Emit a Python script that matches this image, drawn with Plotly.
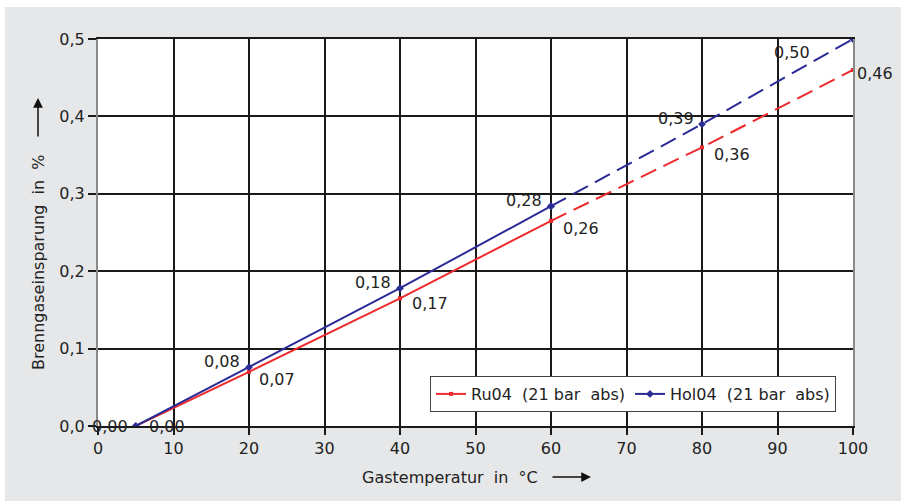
import plotly.graph_objects as go

# ---- data ----
temps = [5, 20, 40, 60, 80, 100]
ru04 = [0.0, 0.07, 0.165, 0.265, 0.36, 0.46]
hol04 = [0.0, 0.076, 0.178, 0.284, 0.39, 0.50]
ru04_labels = ["0,00", "0,07", "0,17", "0,26", "0,36", "0,46"]
hol04_labels = ["0,00", "0,08", "0,18", "0,28", "0,39", "0,50"]
x_ticks = [0, 10, 20, 30, 40, 50, 60, 70, 80, 90, 100]
y_ticks = [0.0, 0.1, 0.2, 0.3, 0.4, 0.5]
y_tick_text = ["0,0", "0,1", "0,2", "0,3", "0,4", "0,5"]
split = 3  # index where measured (solid) part ends and dashed extrapolation begins

RED = "#ee2a2e"
BLUE = "#2b2b96"
GREY_BG = "#e6e7e9"
FONT = "DejaVu Sans, Liberation Sans, Arial, sans-serif"
FS = 16
TXT = "#222"

fig = go.Figure()

# solid parts (with markers, shown in legend)
fig.add_trace(go.Scatter(x=temps[:split + 1], y=ru04[:split + 1], mode="lines+markers",
                         name="Ru04\u00a0 (21 bar\u00a0 abs)",
                         line=dict(color=RED, width=2),
                         marker=dict(symbol="square", size=4, color=RED)))
fig.add_trace(go.Scatter(x=temps[:split + 1], y=hol04[:split + 1], mode="lines+markers",
                         name="Hol04\u00a0 (21 bar\u00a0 abs)",
                         line=dict(color=BLUE, width=2),
                         marker=dict(symbol="diamond", size=6, color=BLUE)))
# dashed extrapolation
fig.add_trace(go.Scatter(x=temps[split:], y=ru04[split:], mode="lines+markers", showlegend=False,
                         line=dict(color=RED, width=2, dash="17px,8px"),
                         marker=dict(symbol="square", size=4, color=RED)))
fig.add_trace(go.Scatter(x=temps[split:], y=hol04[split:], mode="lines+markers", showlegend=False,
                         line=dict(color=BLUE, width=2, dash="17px,8px"),
                         marker=dict(symbol="diamond", size=6, color=BLUE)))

# value labels (offsets in pixels: xanchor, xshift, yshift)
hol_offsets = [("right", -6, 0), ("right", -7, 6), ("right", -7, 6), ("right", -7, 6), ("right", -6, 6), ("right", -41, -13)]
ru_offsets = [("left", 11, 0), ("left", 8, -8), ("left", 10, -5), ("left", 10, -8), ("left", 10, -7), ("left", 2, -4)]
for xv, yv, t, (xa, xs, ys) in zip(temps, hol04, hol04_labels, hol_offsets):
    fig.add_annotation(x=xv, y=yv, text=t, showarrow=False, xanchor=xa, yanchor="middle",
                       xshift=xs, yshift=ys, font=dict(family=FONT, size=FS, color=TXT))
for xv, yv, t, (xa, xs, ys) in zip(temps, ru04, ru04_labels, ru_offsets):
    fig.add_annotation(x=xv, y=yv, text=t, showarrow=False, xanchor=xa, yanchor="middle",
                       xshift=xs, yshift=ys, font=dict(family=FONT, size=FS, color=TXT))

# geometry helpers (pixel -> paper)
L, R, T, B = 98, 48, 39, 75
W, H = 901, 501
pw, ph = W - L - R, H - T - B
def px(x): return (x - L) / pw
def py(y): return (H - B - y) / ph

# axis titles
fig.add_annotation(xref="paper", yref="paper", x=px(450), y=py(477), text="Gastemperatur\u00a0 in\u00a0 °C",
                   showarrow=False, xanchor="center", yanchor="middle",
                   font=dict(family=FONT, size=FS, color=TXT))
fig.add_annotation(xref="paper", yref="paper", x=px(591), y=py(477), text="",
                   showarrow=True, ax=-40, ay=0, arrowhead=2, arrowsize=1.3, arrowwidth=1.5,
                   arrowcolor="#111")
fig.add_annotation(xref="paper", yref="paper", x=px(38), y=py(262), text="Brenngaseinsparung\u00a0 in\u00a0 %",
                   showarrow=False, textangle=-90, xanchor="center", yanchor="middle",
                   font=dict(family=FONT, size=FS, color=TXT))
fig.add_annotation(xref="paper", yref="paper", x=px(38), y=py(98), text="",
                   showarrow=True, ax=0, ay=40, arrowhead=2, arrowsize=1.3, arrowwidth=1.5,
                   arrowcolor="#111")

# white strips at top/left edge of picture
fig.add_shape(type="rect", xref="paper", yref="paper", x0=px(-10), x1=px(5), y0=py(-10), y1=py(511),
              fillcolor="white", line=dict(width=0), layer="below")
fig.add_shape(type="rect", xref="paper", yref="paper", x0=px(-10), x1=px(911), y0=py(-10), y1=py(7),
              fillcolor="white", line=dict(width=0), layer="below")

fig.update_layout(
    width=W, height=H,
    margin=dict(l=L, r=R, t=T, b=B),
    paper_bgcolor=GREY_BG, plot_bgcolor="white",
    font=dict(family=FONT, size=FS, color=TXT),
    legend=dict(orientation="h", x=px(836), y=py(412), xanchor="right", yanchor="bottom",
                bgcolor="white", bordercolor="#444", borderwidth=1,
                font=dict(family=FONT, size=FS, color=TXT),
                itemwidth=30, tracegroupgap=0),
    showlegend=True,
)
fig.update_xaxes(range=[0, 100], tickvals=x_ticks, showgrid=True, gridcolor="#1a1a1a", gridwidth=1.5,
                 zeroline=False, showline=True, linecolor="#1a1a1a", linewidth=1.5, mirror=True,
                 ticks="outside", ticklen=7, tickcolor="#1a1a1a", tickwidth=1.5,
                 tickfont=dict(family=FONT, size=FS, color=TXT))
fig.update_yaxes(range=[0, 0.5], tickvals=y_ticks, ticktext=y_tick_text, showgrid=True,
                 gridcolor="#1a1a1a", gridwidth=1.5, zeroline=False,
                 showline=True, linecolor="#8a8a8a", linewidth=2, mirror=True,
                 ticks="outside", ticklen=8, tickcolor="#1a1a1a", tickwidth=1.5,
                 tickfont=dict(family=FONT, size=FS, color=TXT))

fig.write_html("out.html")
